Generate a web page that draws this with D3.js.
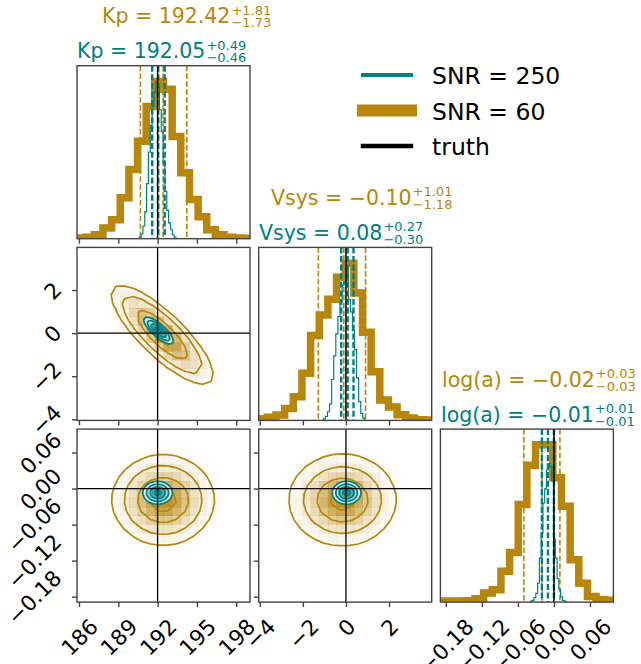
<!DOCTYPE html>
<html>
<head>
<meta charset="utf-8">
<script src="https://cdn.jsdelivr.net/npm/d3@7"></script>
<style>
  body { margin: 0; background: #fff; }
  svg { font-family: "DejaVu Sans", sans-serif; }
</style>
</head>
<body>
<svg id="corner" width="641" height="664"></svg>
<script>
// ---- data ----
const labels = ["Kp", "Vsys", "log(a)"];
const truths = [192, 0, 0];
const ranges = [[185.85, 199.05], [-4.05, 3.98], [-0.189, 0.099]];
const tickValues = [[186, 189, 192, 195, 198], [-4, -2, 0, 2], [-0.18, -0.12, -0.06, 0.00, 0.06]];
const tickFormats = [d3.format("d"), d3.format("d"), d3.format(".2f")];

// 1D histograms, 20 bins each (relative counts)
const goldKp = [0.5, 1, 2.5, 6.8, 12, 26, 44, 62, 84, 100, 95, 65, 42, 25, 14, 5.7, 2.5, 1, 0.5, 0.3];
const goldVsys = [1, 2, 3.5, 7.5, 15, 30, 54, 67, 77, 91, 100, 81, 56, 31, 13, 8.5, 3.6, 1.5, 0.4, 0.2];
const goldLoga = [0.65, 0.55, 0.75, 0.9, 2.2, 5.8, 7.8, 19.6, 31.5, 62, 87, 100, 100, 79, 61, 27, 12, 3.6, 1.5, 1.1];
const tealKp = [1, 3, 8, 17, 35, 55, 72, 84, 93, 100, 97, 82, 68, 48, 30, 18, 10, 6, 2.5, 1];
const tealVsys = [1, 2.5, 5.5, 10.5, 26, 41, 55, 66, 75, 86, 88, 95, 77, 69, 57, 45, 27, 12, 4.5, 1.4];
const tealLoga = [0.6, 1.1, 2.8, 5.5, 12, 28, 44, 63, 72, 84, 88, 86, 77, 40, 28, 15, 8, 3.3, 1.1, 0.6];
const goldHists = [goldKp, goldVsys, goldLoga];
const tealHists = [tealKp, tealVsys, tealLoga];
const tealRanges = [[190.6, 193.4], [-1.05, 0.88], [-0.039, 0.02]];

// title numbers: median, +err, -err
const goldMedian = [192.42, -0.10, -0.02];
const goldPlus = [1.81, 1.01, 0.03];
const goldMinus = [1.73, 1.18, 0.03];
const tealMedian = [192.05, 0.08, -0.01];
const tealPlus = [0.49, 0.27, 0.01];
const tealMinus = [0.46, 0.30, 0.01];

// 2D panels: [row param, column param]
const pairs = [[1, 0], [2, 0], [2, 1]];
const goldCenter = [[192.35, -0.08], [192.42, -0.019], [-0.16, -0.019]];
const goldSigma = [[2.0, 1.18], [1.97, 0.038], [1.24, 0.038]];
const goldRho = [-0.82, 0, 0];
const tealCenter = [[192.07, 0.12], [192.0, -0.007], [0.03, -0.007]];
const tealSigma = [[0.58, 0.32], [0.58, 0.0098], [0.34, 0.0098]];
const tealRho = [-0.8, 0, 0];
const sigmaLevels = [0.5, 1, 1.5, 2];

const legendLabels = ["SNR = 250", "SNR = 60", "truth"];

// ---- layout ----
const gold = "#b8860b", teal = "#008080";
const panelLeft = [77, 258.7, 440.4];
const panelTop = [65.7, 247.4, 429.1];
const size = 173;
const nBins = 20;
const tickFont = 21.5;
const capH = 0.73 * tickFont;

const svg = d3.select("#corner");
const defs = svg.append("defs");

const xScale = ranges.map((r, k) => d3.scaleLinear().domain(r).range([panelLeft[k], panelLeft[k] + size]));
const yScale = ranges.map((r, k) => d3.scaleLinear().domain(r).range([panelTop[k] + size, panelTop[k]]));

function clipFor(id, x, y) {
  defs.append("clipPath").attr("id", id).append("rect")
    .attr("x", x).attr("y", y).attr("width", size).attr("height", size);
  return `url(#${id})`;
}

function frame(x, y) {
  svg.append("rect").attr("x", x).attr("y", y).attr("width", size).attr("height", size)
    .attr("fill", "none").attr("stroke", "#444").attr("stroke-width", 1.4);
}

function drawHist(g, vals, r, xs, ys, color, lw) {
  const step = (r[1] - r[0]) / vals.length;
  const pts = [[r[0], 0]];
  vals.forEach((v, b) => { pts.push([r[0] + b * step, v]); pts.push([r[0] + (b + 1) * step, v]); });
  pts.push([r[1], 0]);
  g.append("path").attr("d", d3.line().x(p => xs(p[0])).y(p => ys(p[1]))(pts))
    .attr("fill", "none").attr("stroke", color).attr("stroke-width", lw).attr("stroke-linejoin", "miter");
}

function vline(g, x, top, color, lw, dash) {
  g.append("line").attr("x1", x).attr("x2", x).attr("y1", top).attr("y2", top + size)
    .attr("stroke", color).attr("stroke-width", lw).attr("stroke-dasharray", dash || null);
}

// ---- diagonal histograms ----
labels.forEach((lab, k) => {
  const left = panelLeft[k], top = panelTop[k];
  const xs = xScale[k];
  const yMax = 1.1 * d3.max(goldHists[k].concat(tealHists[k]));
  const ys = d3.scaleLinear().domain([0, yMax]).range([top + size, top]);
  const g = svg.append("g").attr("clip-path", clipFor("diag" + k, left, top));

  drawHist(g, goldHists[k], ranges[k], xs, ys, gold, 7.5);
  [goldMedian[k] - goldMinus[k], goldMedian[k], goldMedian[k] + goldPlus[k]]
    .forEach(q => vline(g, xs(q), top, gold, 1.6, "5.5,2.4"));
  drawHist(g, tealHists[k], tealRanges[k], xs, ys, teal, 1.2);
  [tealMedian[k] - tealMinus[k], tealMedian[k], tealMedian[k] + tealPlus[k]]
    .forEach(q => vline(g, xs(q), top, teal, 2.4, "6,2.6"));
  vline(g, xs(truths[k]), top, "#000", 1.5);
  frame(left, top);
});

// ---- 2D panels ----
function grid(c, s, r, xr, yr) {
  const dx = (xr[1] - xr[0]) / nBins, dy = (yr[1] - yr[0]) / nBins;
  const vals = new Array(nBins * nBins);
  for (let j = 0; j < nBins; j++) {
    const y = yr[1] - (j + 0.5) * dy;
    for (let i = 0; i < nBins; i++) {
      const x = xr[0] + (i + 0.5) * dx;
      const u = (x - c[0]) / s[0], v = (y - c[1]) / s[1];
      vals[j * nBins + i] = Math.exp(-(u * u - 2 * r * u * v + v * v) / (2 * (1 - r * r)));
    }
  }
  return { vals, dx, dy, xr, yr };
}

// corner-style levels: density thresholds enclosing given mass
function massLevels(vals) {
  const sorted = vals.slice().sort((a, b) => b - a);
  const total = d3.sum(sorted);
  let acc = 0;
  const cum = sorted.map(v => (acc += v) / total);
  return sigmaLevels.map(s => {
    const m = 1 - Math.exp(-0.5 * s * s);
    let v = sorted[0];
    cum.forEach((c, idx) => { if (c <= m) v = sorted[idx]; });
    return v;
  }).sort((a, b) => a - b);
}

function drawDensity(g, gr, xs, ys, color, whiteFill) {
  const hmax = d3.max(gr.vals);
  const V = massLevels(gr.vals);
  const ring = d3.line()
    .x(p => xs(gr.xr[0] + p[0] * gr.dx))
    .y(p => ys(gr.yr[1] - p[1] * gr.dy))
    .curve(d3.curveLinearClosed);
  const pathOf = c => c.coordinates.map(poly => poly.map(rg => ring(rg)).join("")).join("");

  if (whiteFill) {
    d3.contours().size([nBins, nBins]).thresholds([V[0]])(gr.vals)
      .forEach(c => g.append("path").attr("d", pathOf(c)).attr("fill", "#fff"));
  }
  // density cells
  for (let j = 0; j < nBins; j++) {
    for (let i = 0; i < nBins; i++) {
      const t = gr.vals[j * nBins + i] / hmax;
      const a = Math.pow(t, 1.7);
      if (a < 0.006) continue;
      const x0 = xs(gr.xr[0] + i * gr.dx), x1 = xs(gr.xr[0] + (i + 1) * gr.dx);
      const y0 = ys(gr.yr[1] - j * gr.dy), y1 = ys(gr.yr[1] - (j + 1) * gr.dy);
      g.append("rect").attr("x", x0).attr("y", y0).attr("width", x1 - x0 + 0.4).attr("height", y1 - y0 + 0.4)
        .attr("fill", color).attr("fill-opacity", a * 0.9);
    }
  }
  d3.contours().size([nBins, nBins]).thresholds(V)(gr.vals)
    .forEach(c => g.append("path").attr("d", pathOf(c))
      .attr("fill", "none").attr("stroke", color).attr("stroke-width", 1.7));
}

pairs.forEach(([i, j], p) => {
  const left = panelLeft[j], top = panelTop[i];
  const xs = xScale[j], ys = yScale[i];
  const g = svg.append("g").attr("clip-path", clipFor("pair" + p, left, top));

  drawDensity(g, grid(goldCenter[p], goldSigma[p], goldRho[p], ranges[j], ranges[i]), xs, ys, gold, false);
  drawDensity(g, grid(tealCenter[p], tealSigma[p], tealRho[p], tealRanges[j], tealRanges[i]), xs, ys, teal, true);

  g.append("line").attr("x1", xs(truths[j])).attr("x2", xs(truths[j])).attr("y1", top).attr("y2", top + size)
    .attr("stroke", "#000").attr("stroke-width", 1.3);
  g.append("line").attr("x1", left).attr("x2", left + size).attr("y1", ys(truths[i])).attr("y2", ys(truths[i]))
    .attr("stroke", "#000").attr("stroke-width", 1.3);
  frame(left, top);
});

// ---- axes ----
function styleAxis(ax) {
  ax.select(".domain").remove();
  ax.attr("font-size", tickFont).attr("font-family", "DejaVu Sans");
  ax.selectAll("line").attr("stroke", "#444").attr("stroke-width", 1.4);
  ax.selectAll("text").attr("fill", "#000");
}

function bottomAxis(k, row, withLabels) {
  const ax = svg.append("g").attr("transform", `translate(0,${panelTop[row] + size})`)
    .call(d3.axisBottom(xScale[k]).tickValues(tickValues[k]).tickSize(5).tickFormat(withLabels ? tickFormats[k] : ""));
  styleAxis(ax);
  if (withLabels) {
    ax.selectAll("text").each(function() {
      const w = this.getComputedTextLength();
      d3.select(this).attr("y", 0).attr("dy", null).attr("text-anchor", "end")
        .attr("transform", `translate(${(w + capH) * 0.3535},26) rotate(-45)`);
    });
  }
}

function leftAxis(k, col, withLabels) {
  const ax = svg.append("g").attr("transform", `translate(${panelLeft[col]},0)`)
    .call(d3.axisLeft(yScale[k]).tickValues(tickValues[k]).tickSize(5).tickFormat(withLabels ? tickFormats[k] : ""));
  styleAxis(ax);
  if (withLabels) {
    ax.selectAll("text").each(function() {
      const w = this.getComputedTextLength();
      d3.select(this).attr("x", 0).attr("dy", null).attr("text-anchor", "end")
        .attr("transform", `translate(-14,${-(w - capH) * 0.3535}) rotate(-45)`);
    });
  }
}

bottomAxis(0, 0, false);
bottomAxis(0, 1, false);
bottomAxis(0, 2, true);
bottomAxis(1, 1, false);
bottomAxis(1, 2, true);
bottomAxis(2, 2, true);
leftAxis(1, 0, true);
leftAxis(2, 0, true);
leftAxis(2, 1, false);

// ---- titles ----
const fmt2 = d3.format(".2f");
const goldTitleX = [102, 271, 442];
const tealTitleX = [77, 259, 441];

function title(x, y, label, med, plus, minus, color) {
  const main = svg.append("text").attr("x", x).attr("y", y).attr("font-size", 20.5).attr("fill", color)
    .text(`${label} = ${fmt2(med)}`);
  const x2 = x + main.node().getComputedTextLength() + 1;
  svg.append("text").attr("x", x2).attr("y", y - 8.5).attr("font-size", 13).attr("fill", color).text("+" + fmt2(plus));
  svg.append("text").attr("x", x2).attr("y", y + 4).attr("font-size", 13).attr("fill", color).text("\u2212" + fmt2(minus));
}

labels.forEach((lab, k) => {
  title(goldTitleX[k], panelTop[k] - 42.5, lab, goldMedian[k], goldPlus[k], goldMinus[k], gold);
  title(tealTitleX[k], panelTop[k] - 7.5, lab, tealMedian[k], tealPlus[k], tealMinus[k], teal);
});

// ---- legend ----
const legendColors = [teal, gold, "#000"];
const legendWidths = [4, 12, 4.5];
const legend = svg.append("g").selectAll("g").data(legendLabels).enter().append("g")
  .attr("transform", (d, i) => `translate(0,${75 + i * 35.5})`);
legend.append("line").attr("x1", 363).attr("x2", 411).attr("y1", 0).attr("y2", 0)
  .attr("stroke", (d, i) => legendColors[i]).attr("stroke-width", (d, i) => legendWidths[i])
  .attr("stroke-linecap", "square");
legend.append("text").attr("x", 432).attr("y", 9.3).attr("font-size", 23.5).attr("fill", "#000").text(d => d);
</script>
</body>
</html>
